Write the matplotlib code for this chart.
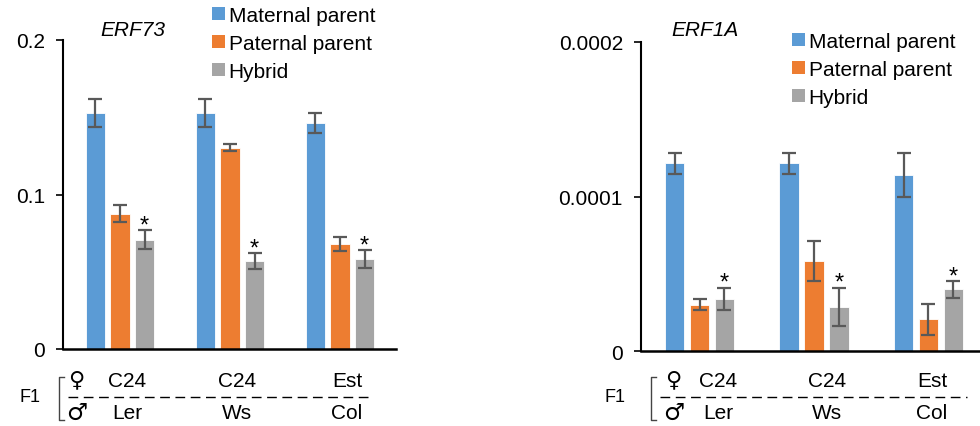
import numpy as np
import matplotlib
matplotlib.use("Agg")
import matplotlib.pyplot as plt
from matplotlib.patches import Patch
from matplotlib.lines import Line2D
from matplotlib.ticker import FixedLocator, FixedFormatter

plt.rcParams['font.family'] = ['Liberation Sans', 'DejaVu Sans']

# expression data: maternal parent, paternal parent, F1 hybrid
series = ['Maternal parent', 'Paternal parent', 'Hybrid']
colors = ['#5B9BD5', '#ED7D31', '#A5A5A5']
mothers = ['C24', 'C24', 'Est']
fathers = ['Ler', 'Ws', 'Col']

erf73_mean = [[0.1528, 0.1528, 0.1461],
              [0.0877, 0.1303, 0.0680],
              [0.0708, 0.0569, 0.0582]]
erf73_err = [[0.0091, 0.0091, 0.0066],
             [0.0057, 0.0021, 0.0046],
             [0.0061, 0.0052, 0.0060]]

erf1a_mean = [[1.216e-4, 1.216e-4, 1.14e-4],
              [0.300e-4, 0.582e-4, 0.205e-4],
              [0.339e-4, 0.285e-4, 0.399e-4]]
erf1a_err = [[0.068e-4, 0.068e-4, 0.140e-4],
             [0.035e-4, 0.132e-4, 0.099e-4],
             [0.072e-4, 0.126e-4, 0.056e-4]]

erf73_ticks = [0, 0.1, 0.2]
erf73_ticklabels = ['0', '0.1', '0.2']
erf1a_ticks = [0, 1e-4, 2e-4]
erf1a_ticklabels = ['0', '0.0001', '0.0002']

W, H = 980, 427
fig = plt.figure(figsize=(W / 100, H / 100), dpi=100)


def fx(x):
    return x / W


def fy(y):
    return 1 - y / H


def panel(left, right, y0, y1, xlo, xhi, width, step, means, errs,
          ymax, ticks, ticklabels, title, title_x, legend_x, legend_y):
    ax = fig.add_axes([fx(left), fy(y0), fx(right - left), (y0 - y1) / H])
    x = np.arange(3)
    for i in range(3):
        xi = x + (i - 1) * step
        ax.bar(xi, means[i], width, color=colors[i], edgecolor='white',
               linewidth=0.6, zorder=2)
        ax.errorbar(xi, means[i], yerr=errs[i], fmt='none', ecolor='#595959',
                    elinewidth=1.6, capsize=5, capthick=1.6, zorder=3)
    # significance marks over the hybrid bars
    for j in range(3):
        ax.annotate('*', (x[j] + step, means[2][j] + errs[2][j]),
                    xytext=(0, -1), textcoords='offset points',
                    ha='center', va='baseline', fontsize=17)
    ax.set_xlim(xlo, xhi)
    ax.set_ylim(0, ymax)
    ax.yaxis.set_major_locator(FixedLocator(ticks))
    ax.yaxis.set_major_formatter(FixedFormatter(ticklabels))
    ax.set_xticks([])
    for s in ['top', 'right']:
        ax.spines[s].set_visible(False)
    ax.spines['left'].set_linewidth(1.5)
    ax.spines['bottom'].set_linewidth(1.8)
    ax.tick_params(axis='y', length=5, width=1.2, labelsize=15, pad=8)
    ax.patch.set_alpha(0)
    fig.text(fx(title_x), fy(30), title, style='italic', fontsize=15,
             ha='center', va='center')
    handles = [Patch(facecolor=c, edgecolor='none') for c in colors]
    fig.legend(handles, series, loc='upper left',
               bbox_to_anchor=(fx(legend_x), fy(legend_y)),
               frameon=False, fontsize=15, handlelength=0.6,
               handleheight=0.6, handletextpad=0.2, labelspacing=0.42,
               borderpad=0, borderaxespad=0)
    return ax


panel(63, 396, 350, 41, -0.518, 2.509, 0.173, 0.223,
      erf73_mean, erf73_err, 0.2, erf73_ticks, erf73_ticklabels,
      'ERF73', 133, 212, 7)
panel(641, 980, 352, 43, -0.511, 2.45, 0.17, 0.218,
      erf1a_mean, erf1a_err, 2e-4, erf1a_ticks, erf1a_ticklabels,
      'ERF1A', 705, 792, 33)


def cross_labels(f1_x, br_x, sym_x, line_x0, line_x1, label_xs):
    fig.text(fx(f1_x), fy(398), 'F1', fontsize=13, ha='center', va='center')
    fig.add_artist(Line2D([fx(br_x + 5), fx(br_x), fx(br_x), fx(br_x + 5)],
                          [fy(378), fy(378), fy(421), fy(421)],
                          color='#444444', lw=1))
    fig.text(fx(sym_x), fy(380), '\u2640', fontsize=16, ha='center',
             va='center', family=['DejaVu Sans'])
    fig.text(fx(sym_x + 1), fy(413), '\u2642', fontsize=17, ha='center',
             va='center', family=['DejaVu Sans'])
    fig.add_artist(Line2D([fx(line_x0), fx(line_x1)], [fy(398), fy(398)],
                          color='black', lw=1, dashes=(7, 4)))
    for xl, m, f in zip(label_xs, mothers, fathers):
        fig.text(fx(xl), fy(382), m, fontsize=15, ha='center', va='center')
        fig.text(fx(xl), fy(414), f, fontsize=15, ha='center', va='center')


cross_labels(30, 59, 76, 68, 373, [127, 237, 347])
cross_labels(615, 651, 673, 660, 967, [718, 827, 932])

fig.savefig('out.png', dpi=100)
